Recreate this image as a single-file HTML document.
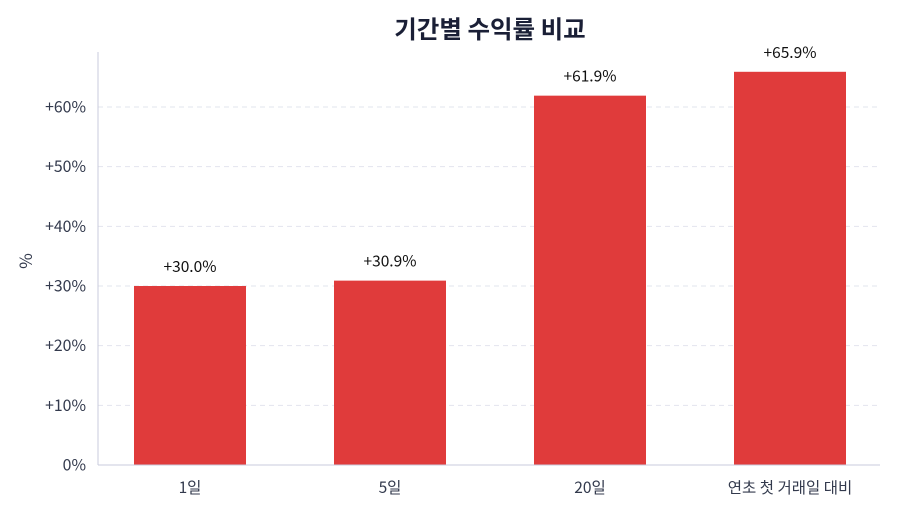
<!DOCTYPE html>
<html><head><meta charset="utf-8">
<style>
html,body{margin:0;padding:0;background:#fff;}
svg{display:block;font-family:"Noto Sans CJK KR","Liberation Sans",sans-serif;}
</style></head>
<body>
<svg id="chart" width="900" height="514"></svg>
<script>
const categories = ["1일", "5일", "20일", "연초 첫 거래일 대비"];
const returnValues = [30.0, 30.9, 61.9, 65.9];
const valueLabels = ["+30.0%", "+30.9%", "+61.9%", "+65.9%"];
const yTicks = [0, 10, 20, 30, 40, 50, 60];
const yTickLabels = ["0%", "+10%", "+20%", "+30%", "+40%", "+50%", "+60%"];

const NS = "http://www.w3.org/2000/svg";
const svg = document.getElementById("chart");
const plotL = 98, plotR = 880, y0 = 465, pxPer = 358 / 60;
const step = 200, firstC = 190, barW = 112;
function xScale(i){ return firstC + i * step; }
function yScale(v){ return y0 - v * pxPer; }
function mk(tag, attrs, parent){
  const e = document.createElementNS(NS, tag);
  for (const k in attrs) e.setAttribute(k, attrs[k]);
  (parent || svg).appendChild(e);
  return e;
}

const title = mk("text", {x: 490, y: 38, "text-anchor": "middle", "font-size": 24.5, "font-weight": "bold", fill: "#1a1f36"});
title.textContent = "기간별 수익률 비교";



const yTitle = mk("text", {x: 0, y: 0, transform: "translate(32,261) rotate(-90)", "text-anchor": "middle", "font-size": 17, fill: "#333a4d"});
yTitle.textContent = "%";



yTicks.forEach((t, i) => {
  const y = yScale(t);
  if (t > 0) {
    const g = mk("line", {x1: plotL, x2: plotR, y1: y, y2: y, stroke: "#e2e4ee", "stroke-dasharray": "5,4", "stroke-width": 1});
    
    
  }
  const tk = mk("text", {x: 86, y: y + 5.5, "text-anchor": "end", "font-size": 15.8, fill: "#333a4d"});
  tk.textContent = yTickLabels[i];
  
  
});

const yAxis = mk("line", {x1: plotL, x2: plotL, y1: 52, y2: y0, stroke: "#c9cbdc", "stroke-width": 1});



categories.forEach((c, i) => {
  const cx = xScale(i), v = returnValues[i];
  const b = mk("rect", {x: cx - barW / 2, y: yScale(v), width: barW, height: y0 - yScale(v), fill: "#e03b3b"});
  
  
  const vl = mk("text", {x: cx, y: yScale(v) - 14, "text-anchor": "middle", "font-size": 15.5, fill: "#111"});
  vl.textContent = valueLabels[i];
  
  
  const xl = mk("text", {x: cx, y: 493, "text-anchor": "middle", "font-size": 15.5, fill: "#333a4d"});
  xl.textContent = c;
  
  
});

const xAxis = mk("line", {x1: plotL, x2: plotR, y1: y0, y2: y0, stroke: "#c9cbdc", "stroke-width": 1});


</script>
</body></html>
